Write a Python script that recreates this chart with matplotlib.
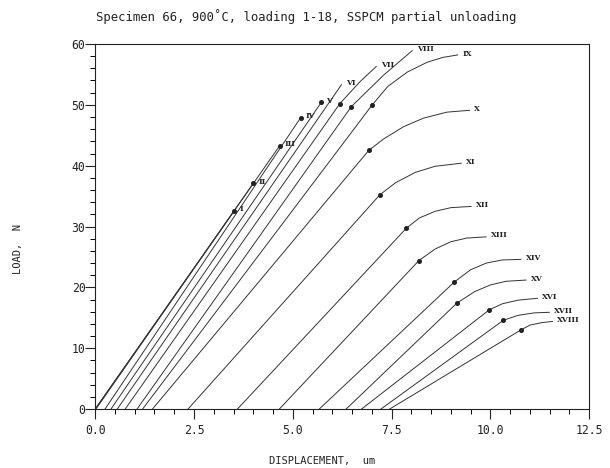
import matplotlib
matplotlib.use("Agg")
import matplotlib.pyplot as plt
from matplotlib.ticker import MultipleLocator

# ======================
# DATA
# ======================
labels = ["I", "II", "III", "IV", "V", "VI", "VII", "VIII", "IX",
          "X", "XI", "XII", "XIII", "XIV", "XV", "XVI", "XVII", "XVIII"]

# displacement (um) / load (N) points along each loading curve
disp = [
    [0.0, 3.52],
    [0.0, 4.00],
    [0.02, 4.67],
    [0.25, 5.20],
    [0.40, 5.72],
    [0.56, 6.23],
    [0.76, 6.19, 6.70, 7.11],
    [1.06, 6.48, 7.30, 8.02],
    [1.20, 7.01, 7.40, 7.90, 8.40, 8.80, 9.17],
    [1.45, 6.92, 7.30, 7.80, 8.30, 8.90, 9.47],
    [2.35, 7.20, 7.60, 8.10, 8.60, 9.26],
    [3.60, 7.87, 8.20, 8.60, 9.00, 9.51],
    [4.66, 8.19, 8.60, 9.00, 9.40, 9.89],
    [5.67, 9.09, 9.50, 9.90, 10.30, 10.77],
    [6.35, 9.15, 9.60, 10.00, 10.40, 10.90],
    [6.74, 9.97, 10.30, 10.70, 11.19],
    [7.23, 10.33, 10.70, 11.10, 11.49],
    [7.45, 10.77, 11.00, 11.30, 11.57],
]
load = [
    [0, 32.6],
    [0, 37.1],
    [0, 43.3],
    [0, 47.9],
    [0, 50.4],
    [0, 53.3],
    [0, 50.2, 53.8, 56.3],
    [0, 49.7, 54.9, 58.9],
    [0, 50.0, 53.0, 55.4, 57.0, 57.8, 58.2],
    [0, 42.5, 44.4, 46.4, 47.8, 48.8, 49.1],
    [0, 35.2, 37.2, 38.9, 39.9, 40.4],
    [0, 29.7, 31.4, 32.5, 33.1, 33.3],
    [0, 24.4, 26.3, 27.5, 28.1, 28.3],
    [0, 20.9, 22.9, 24.0, 24.5, 24.6],
    [0, 17.4, 19.3, 20.4, 21.0, 21.2],
    [0, 16.3, 17.3, 17.9, 18.2],
    [0, 14.6, 15.4, 15.8, 15.9],
    [0, 13.0, 13.8, 14.2, 14.4],
]

# partial unloading markers
dot_x = [3.52, 4.00, 4.67, 5.20, 5.72, 6.19, 6.48, 7.01, 6.92, 7.20,
         7.87, 8.19, 9.09, 9.15, 9.97, 10.33, 10.77]
dot_y = [32.6, 37.1, 43.3, 47.9, 50.4, 50.2, 49.7, 50.0, 42.5, 35.2,
         29.7, 24.4, 20.9, 17.4, 16.3, 14.6, 13.0]

x_ticks = [0.0, 2.5, 5.0, 7.5, 10.0, 12.5]
y_ticks = [0, 10, 20, 30, 40, 50, 60]

# ======================
# PLOT
# ======================
plt.rcParams['font.family'] = ['DejaVu Sans Mono']
fig = plt.figure(figsize=(6.10, 4.68), dpi=100)
ax = fig.add_axes([0.156, 0.126, 0.810, 0.780])

line_col = "#333333"
for lab, xs, ys in zip(labels, disp, load):
    ax.plot(xs, ys, color=line_col, lw=0.7)
    ax.annotate(lab, (xs[-1], ys[-1]), xytext=(3.5, 1), textcoords="offset points",
                ha="left", va="center", fontsize=5.5, fontweight="bold",
                family="DejaVu Serif", color="#222222")

ax.plot(dot_x, dot_y, "o", color="#222222", ms=2.6, ls="none")

ax.set_xlim(0, 12.5)
ax.set_ylim(0, 60)
ax.set_xticks(x_ticks)
ax.set_xticklabels([f"{v:.1f}" for v in x_ticks])
ax.set_yticks(y_ticks)
ax.set_yticklabels([str(v) for v in y_ticks])
ax.xaxis.set_minor_locator(MultipleLocator(0.5))
ax.yaxis.set_minor_locator(MultipleLocator(2))

ax.tick_params(axis="x", which="major", direction="out", length=7, width=0.8,
               labelsize=8.3, pad=4, colors="#222222")
ax.tick_params(axis="x", which="minor", direction="out", length=3.5, width=0.7)
ax.tick_params(axis="y", which="major", direction="out", length=7, width=0.8,
               labelsize=8.3, pad=0, colors="#222222")
ax.tick_params(axis="y", which="minor", direction="out", length=3.5, width=0.7)
for side in ax.spines.values():
    side.set_linewidth(0.8)
    side.set_color("#222222")

# axis titles placed where the plotter put them
fig.text(322 / 610, 1 - 461 / 468, "DISPLACEMENT,  um", ha="center", va="center",
         fontsize=7.5, color="#222222")
fig.text(18 / 610, 1 - 249 / 468, "LOAD,  N", ha="center", va="center",
         rotation=90, fontsize=7.5, color="#222222")
fig.text(306 / 610, 0.965, "Specimen 66, 900˚C, loading 1-18, SSPCM partial unloading",
         ha="center", va="center", fontsize=8.8, color="#222222")

plt.savefig("out.png", dpi=100)
plt.close()
